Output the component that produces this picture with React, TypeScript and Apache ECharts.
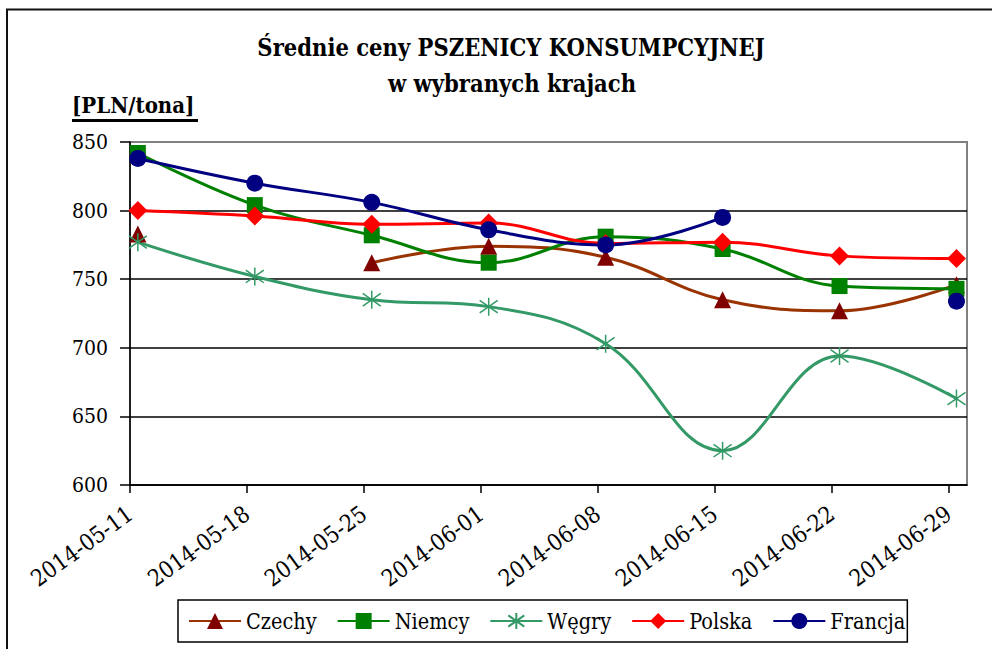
import React, { useEffect, useRef } from 'react';
import * as echarts from 'echarts';

// ---- data ----
const tickDates = ['2014-05-11', '2014-05-18', '2014-05-25', '2014-06-01', '2014-06-08', '2014-06-15', '2014-06-22', '2014-06-29'];
const czechy = [783, null, 762, 774, 766, 735, 727, 746];
const niemcy = [842, 804, 782, 762, 781, 772, 745, 743];
const wegry = [777, 752, 735, 730, 703, 625, 694, 663];
const polska = [800, 796, 790, 791, 776, 777, 767, 765];
const francja = [838, 820, 806, 786, 775, 795, null, 734];
const seriesNames = ['Czechy', 'Niemcy', 'Węgry', 'Polska', 'Francja'];
const yMin = 600;
const yMax = 850;
const yStep = 50;

const FONT = "'DejaVu Serif Condensed', 'DejaVu Serif'";
const DAY = 86400000;
const baseTime = Date.parse(tickDates[0]);
const dayOf = (d: string) => Math.round((Date.parse(d) - baseTime) / DAY);
const tickDays = tickDates.map(dayOf);
const pointShift = 0.47;
const xMax = 50.1;

const toPoints = (vals: (number | null)[]) =>
  tickDates.map((d, i) => [dayOf(d) + pointShift, vals[i] == null ? null : vals[i]]);

const asterisk = 'path://M10,0 L10,20 M3,3 L17,17 M3,17 L17,3';

export default function App() {
  const ref = useRef<HTMLDivElement>(null);
  useEffect(() => {
    if (!ref.current) return;
    const chart = echarts.init(ref.current, undefined, { renderer: 'svg' });
    const mk = (name: string, vals: (number | null)[], lineColor: string, markColor: string, symbol: string, size: number, extraItem: any = {}) => ({
      name,
      type: 'line',
      data: toPoints(vals),
      smooth: 0.4,
      connectNulls: false,
      symbol,
      symbolSize: size,
      showSymbol: true,
      lineStyle: { color: lineColor, width: 3 },
      itemStyle: { color: markColor, ...extraItem },
      emphasis: { disabled: true },
    });
    const txt = (text: string, x: number, y: number, align: string, size: number) => ({
      type: 'text', x, y,
      style: { text, fontFamily: FONT, fontSize: size, fontWeight: 'bold', fill: '#000', textAlign: align, textVerticalAlign: 'middle' },
    });
    chart.setOption({
      animation: false,
      backgroundColor: '#ffffff',
      graphic: [
        { type: 'rect', shape: { x: 7, y: 9.5, width: 1000, height: 700 }, style: { fill: 'none', stroke: '#111', lineWidth: 2 }, silent: true },
        txt('Średnie ceny PSZENICY KONSUMPCYJNEJ', 511, 48, 'center', 23.5),
        txt('w wybranych krajach', 512, 84, 'center', 23.5),
        txt('[PLN/tona]', 72, 105, 'left', 22),
        { type: 'line', shape: { x1: 72, y1: 120.5, x2: 198, y2: 120.5 }, style: { stroke: '#000', lineWidth: 3 } },
      ],
      grid: { left: 130, right: 25, top: 142, bottom: 164, show: true, borderColor: '#808080', borderWidth: 2, backgroundColor: '#fff', outerBoundsMode: 'none' },
      legend: {
        left: 178,
        top: 600,
        orient: 'horizontal',
        data: seriesNames,
        itemWidth: 52,
        itemHeight: 20,
        itemGap: 20,
        padding: [10, 2, 10, 10],
        borderColor: '#000',
        borderWidth: 1.5,
        backgroundColor: '#fff',
        textStyle: { fontFamily: FONT, fontSize: 21.5, color: '#000' },
      },
      xAxis: {
        type: 'value',
        min: 0,
        max: xMax,
        interval: 7,
        axisLine: { show: true, lineStyle: { color: '#000', width: 1.5 } },
        axisTick: { show: true, length: 8, customValues: tickDays, lineStyle: { color: '#000', width: 1.5 } },
        axisLabel: {
          show: true,
          customValues: tickDays,
          rotate: 36,
          margin: 26,
          fontFamily: FONT,
          fontSize: 23,
          color: '#000',
          formatter: (v: number) => {
            const i = tickDays.indexOf(Math.round(v));
            return i >= 0 && Math.abs(v - tickDays[i]) < 0.01 ? tickDates[i] : '';
          },
        },
        splitLine: { show: false },
      },
      yAxis: {
        type: 'value',
        min: yMin,
        max: yMax,
        interval: yStep,
        axisLine: { show: true, lineStyle: { color: '#000', width: 1.5 } },
        axisTick: { show: true, length: 10, lineStyle: { color: '#000', width: 1.5 } },
        axisLabel: { margin: 22, fontFamily: FONT, fontSize: 21, color: '#000' },
        splitLine: { show: true, lineStyle: { color: ['#000', '#000', '#000', '#000', '#000', '#808080'], width: 1.5 } },
      },
      series: [
        mk('Czechy', czechy, '#993300', '#800000', 'triangle', 17),
        mk('Niemcy', niemcy, '#008000', '#008000', 'rect', 16),
        mk('Węgry', wegry, '#339966', '#339966', asterisk, 18, { borderColor: '#339966', borderWidth: 1.5 }),
        mk('Polska', polska, '#ff0000', '#ff0000', 'diamond', 19),
        mk('Francja', francja, '#000080', '#000080', 'circle', 17),
      ],
    });
    return () => chart.dispose();
  }, []);
  return <div ref={ref} style={{ position: 'fixed', left: 0, top: 0, width: 992, height: 649 }} />;
}
